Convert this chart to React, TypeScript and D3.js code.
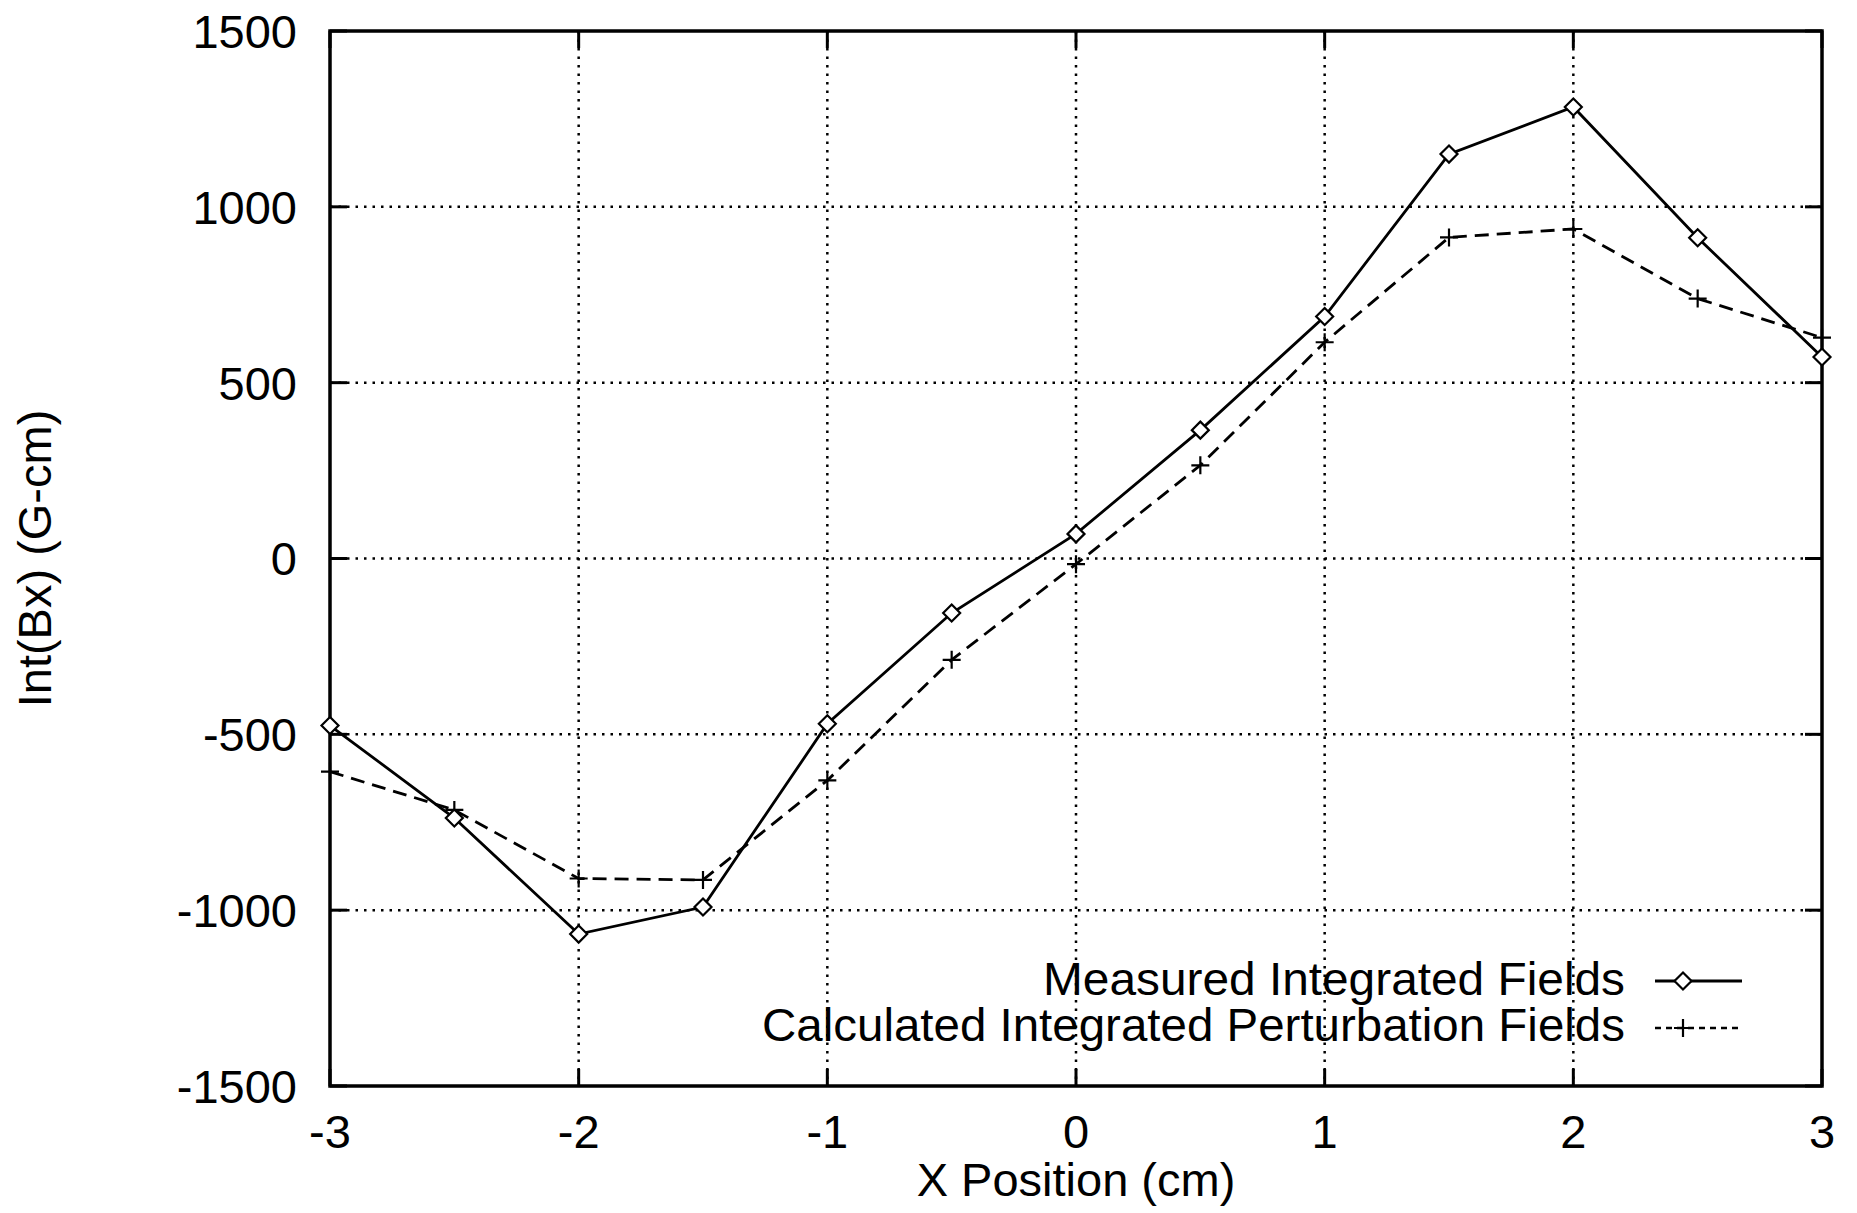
import * as React from "react";
import * as d3 from "d3";

const xPositions = [-3, -2.5, -2, -1.5, -1, -0.5, 0, 0.5, 1, 1.5, 2, 2.5, 3];
const measured = [-475, -738, -1068, -991, -470, -155, 70, 365, 688, 1150, 1284, 912, 573];
const calculated = [-606, -715, -910, -914, -631, -288, -16, 265, 615, 913, 937, 739, 628];
const xTicks = [-3, -2, -1, 0, 1, 2, 3];
const yTicks = [-1500, -1000, -500, 0, 500, 1000, 1500];
const legendLabels = ["Measured Integrated Fields", "Calculated Integrated Perturbation Fields"];

const W = 1857;
const H = 1213;
const left = 330;
const right = 1822;
const top = 31;
const bottom = 1086;
const font = "'Liberation Sans', Arial, Helvetica, sans-serif";

const Diamond = ({ x, y }) => {
  const r = 8.5;
  return (
    <path
      d={`M${x},${y - r}L${x + r},${y}L${x},${y + r}L${x - r},${y}Z`}
      fill="white"
      stroke="black"
      strokeWidth={2.2}
    />
  );
};

const Plus = ({ x, y }) => {
  const r = 9;
  return (
    <path
      d={`M${x - r},${y}H${x + r}M${x},${y - r}V${y + r}`}
      stroke="black"
      strokeWidth={2.2}
      fill="none"
    />
  );
};

export default function App() {
  const x = d3.scaleLinear().domain([-3, 3]).range([left, right]);
  const y = d3.scaleLinear().domain([-1500, 1500]).range([bottom, top]);

  const line = d3
    .line<number>()
    .x((d, i) => x(xPositions[i]))
    .y(d => y(d));

  const tickLen = 17;

  return (
    <svg
      width={W}
      height={H}
      style={{ position: "absolute", left: 0, top: 0, background: "white" }}
    >
      <rect x={0} y={0} width={W} height={H} fill="white" />

      {/* grid */}
      {xTicks.slice(1, -1).map(t => (
        <line
          key={"gx" + t}
          x1={x(t)}
          x2={x(t)}
          y1={top}
          y2={bottom}
          stroke="black"
          strokeWidth={2.5}
          strokeDasharray="2.5 6"
        />
      ))}
      {yTicks.slice(1, -1).map(t => (
        <line
          key={"gy" + t}
          x1={left}
          x2={right}
          y1={y(t)}
          y2={y(t)}
          stroke="black"
          strokeWidth={2.5}
          strokeDasharray="2.5 6"
        />
      ))}

      {/* ticks */}
      {xTicks.map(t => (
        <g key={"tx" + t}>
          <line x1={x(t)} x2={x(t)} y1={bottom} y2={bottom - tickLen} stroke="black" strokeWidth={3} />
          <line x1={x(t)} x2={x(t)} y1={top} y2={top + tickLen} stroke="black" strokeWidth={3} />
          <text
            x={x(t)}
            y={1148}
            textAnchor="middle"
            fontFamily={font}
            fontSize={47}
          >
            {t}
          </text>
        </g>
      ))}
      {yTicks.map(t => (
        <g key={"ty" + t}>
          <line x1={left} x2={left + tickLen} y1={y(t)} y2={y(t)} stroke="black" strokeWidth={3} />
          <line x1={right} x2={right - tickLen} y1={y(t)} y2={y(t)} stroke="black" strokeWidth={3} />
          <text
            x={297}
            y={y(t)}
            dy="0.36em"
            textAnchor="end"
            fontFamily={font}
            fontSize={47}
          >
            {t}
          </text>
        </g>
      ))}

      {/* frame */}
      <rect
        x={left}
        y={top}
        width={right - left}
        height={bottom - top}
        fill="none"
        stroke="black"
        strokeWidth={3.5}
      />

      {/* series */}
      <path d={line(calculated) || ""} fill="none" stroke="black" strokeWidth={2.8} strokeDasharray="14 8" />
      <path d={line(measured) || ""} fill="none" stroke="black" strokeWidth={2.8} />
      {calculated.map((v, i) => (
        <Plus key={"p" + i} x={x(xPositions[i])} y={y(v)} />
      ))}
      {measured.map((v, i) => (
        <Diamond key={"d" + i} x={x(xPositions[i])} y={y(v)} />
      ))}

      {/* legend */}
      <text
        x={1625}
        y={995}
        textAnchor="end"
        fontFamily={font}
        fontSize={47}
        textLength={582}
        lengthAdjust="spacingAndGlyphs"
      >
        {legendLabels[0]}
      </text>
      <line x1={1655} x2={1742} y1={981} y2={981} stroke="black" strokeWidth={2.8} />
      <Diamond x={1683} y={981} />
      <text
        x={1625}
        y={1041}
        textAnchor="end"
        fontFamily={font}
        fontSize={47}
        textLength={863}
        lengthAdjust="spacingAndGlyphs"
      >
        {legendLabels[1]}
      </text>
      <line x1={1655} x2={1742} y1={1028} y2={1028} stroke="black" strokeWidth={2.4} strokeDasharray="6 5" />
      <Plus x={1683} y={1028} />

      {/* axis titles */}
      <text
        x={(left + right) / 2}
        y={1196}
        textAnchor="middle"
        fontFamily={font}
        fontSize={47}
      >
        X Position (cm)
      </text>
      <text
        transform={`translate(51,${(top + bottom) / 2}) rotate(-90)`}
        textAnchor="middle"
        fontFamily={font}
        fontSize={47}
      >
        Int(Bx) (G-cm)
      </text>
    </svg>
  );
}
